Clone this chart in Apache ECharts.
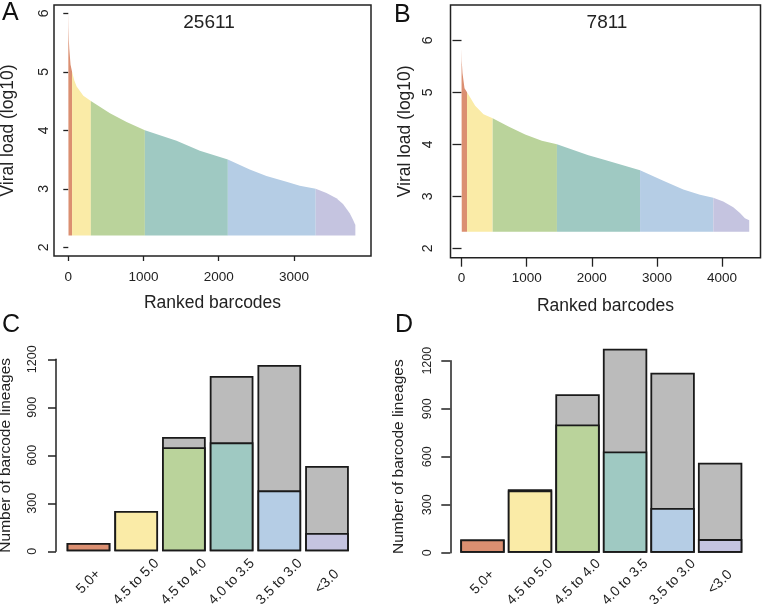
<!DOCTYPE html>
<html>
<head>
<meta charset="utf-8">
<script src="https://cdn.jsdelivr.net/npm/echarts@6/dist/echarts.min.js"></script>
<style>html,body{margin:0;padding:0;background:#fff}#c{width:762px;height:605px}</style>
</head>
<body>
<div id="c"></div>
<script>
// ---------- data ----------
const panelLetters = ['A', 'B', 'C', 'D'];
const panelTitles = ['25611', '7811'];
const binNames = ['5.0+', '4.5 to 5.0', '4.5 to 4.0', '4.0 to 3.5', '3.5 to 3.0', '<3.0'];
const binColors = ['#DB8F71', '#FAEBA7', '#BAD39B', '#9FC9C2', '#B5CDE5', '#C5C4E0'];
const greyColor = '#BBBBBB';

// Panel A: ranked barcodes curve
const rankA = [0, 3, 7, 13, 30, 50, 80, 111, 200, 300, 554, 775, 1018, 1439, 1749, 2121, 2412, 2634, 2900, 3077, 3289, 3432, 3564, 3652, 3741, 3785, 3816];
const loadA = [6.05, 5.75, 5.55, 5.40, 5.12, 5.00, 4.85, 4.75, 4.59, 4.50, 4.29, 4.14, 4.00, 3.82, 3.65, 3.50, 3.33, 3.22, 3.12, 3.05, 3.00, 2.93, 2.84, 2.74, 2.58, 2.47, 2.38];
const breaksA = [50, 300, 1018, 2121, 3289];
const baseA = 2.2;

// Panel B
const rankB = [0, 4, 15, 46, 85, 210, 337, 478, 721, 977, 1233, 1465, 1948, 2204, 2741, 3098, 3405, 3661, 3865, 4018, 4172, 4275, 4351, 4417];
const loadB = [5.85, 5.60, 5.37, 5.08, 5.00, 4.74, 4.58, 4.50, 4.34, 4.19, 4.07, 4.00, 3.79, 3.70, 3.50, 3.30, 3.13, 3.03, 2.97, 2.90, 2.79, 2.68, 2.58, 2.54];
const breaksB = [85, 478, 1465, 2741, 3865];
const baseB = 2.32;

// Panel C / D: number of barcode lineages (total bar height and coloured part)
const totalC = [52, 252, 715, 1096, 1165, 533];
const coloredC = [52, 252, 650, 681, 381, 114];
const totalD = [83, 396, 990, 1275, 1125, 562];
const coloredD = [83, 389, 802, 633, 279, 85];

const xTicksA = [0, 1000, 2000, 3000];
const xTicksB = [0, 1000, 2000, 3000, 4000];
const curveYTicks = [2, 3, 4, 5, 6];

// ---------- build ----------
const FONT = 'Liberation Sans, Arial, sans-serif';
const TXT = '#222';
const plain = v => String(v);

function segments(ranks, loads, breaks) {
  const edges = [ranks[0]].concat(breaks, [ranks[ranks.length - 1]]);
  const segs = [];
  for (let b = 0; b < edges.length - 1; b++) {
    const pts = [];
    for (let i = 0; i < ranks.length; i++) {
      if (ranks[i] >= edges[b] && ranks[i] <= edges[b + 1]) pts.push([ranks[i], loads[i]]);
    }
    segs.push(pts);
  }
  return segs;
}

const series = [];
function addCurve(idx, ranks, loads, breaks, base) {
  segments(ranks, loads, breaks).forEach((pts, b) => {
    series.push({
      type: 'line', xAxisIndex: idx, yAxisIndex: idx, data: pts,
      showSymbol: false, symbol: 'none', lineStyle: { width: 0 },
      areaStyle: { color: binColors[b], opacity: 1, origin: base },
      silent: true, z: 2
    });
  });
}
addCurve(0, rankA, loadA, breaksA, baseA);
addCurve(1, rankB, loadB, breaksB, baseB);

function addBars(idx, total, colored, gap) {
  series.push({
    type: 'bar', xAxisIndex: idx, yAxisIndex: idx, clip: false,
    barCategoryGap: gap, barGap: '-100%', z: 2,
    data: total,
    itemStyle: { color: greyColor, borderColor: '#1a1a1a', borderWidth: 1.8 }
  });
  series.push({
    type: 'bar', xAxisIndex: idx, yAxisIndex: idx, clip: false,
    barCategoryGap: gap, barGap: '-100%', z: 3,
    data: colored.map((v, i) => ({ value: v, itemStyle: { color: binColors[i] } })),
    itemStyle: { borderColor: '#1a1a1a', borderWidth: 1.8 }
  });
}
addBars(2, totalC, coloredC, '8.4%');
addBars(3, totalD, coloredD, '6.6%');

function curveX(idx, min, max, ticks, tickLen, margin, nameGap) {
  return {
    gridIndex: idx, type: 'value', min: min, max: max,
    name: 'Ranked barcodes', nameLocation: 'middle', nameGap: nameGap,
    nameTextStyle: { fontSize: 17.5, color: TXT, fontFamily: FONT },
    axisLine: { show: false },
    axisTick: { show: true, inside: false, length: tickLen, customValues: ticks, lineStyle: { color: '#222', width: 1.3 } },
    axisLabel: { customValues: ticks, formatter: plain, fontSize: 13.5, color: TXT, margin: margin, fontFamily: FONT },
    splitLine: { show: false }
  };
}
function curveY(idx, min, max, tickLen, margin, nameGap) {
  return {
    gridIndex: idx, type: 'value', min: min, max: max,
    name: 'Viral load (log10)', nameLocation: 'middle', nameGap: nameGap, nameRotate: 90,
    nameTextStyle: { fontSize: 17.5, color: TXT, fontFamily: FONT },
    axisLine: { show: false },
    axisTick: { show: true, inside: false, length: tickLen, customValues: curveYTicks, lineStyle: { color: '#222', width: 1.3 } },
    axisLabel: { customValues: curveYTicks, formatter: plain, rotate: 90, fontSize: 14, color: TXT, margin: margin, fontFamily: FONT },
    splitLine: { show: false }
  };
}
function countX(idx, margin) {
  return {
    gridIndex: idx, type: 'category', data: binNames,
    axisLine: { show: false }, axisTick: { show: false },
    axisLabel: {
      interval: 0, rotate: 45, fontSize: 14, color: TXT, margin: margin, fontFamily: FONT,
      align: 'center', verticalAlign: 'middle'
    }
  };
}
function countY(idx, offset, tickLen, margin, nameGap) {
  return {
    gridIndex: idx, type: 'value', min: 0, max: 1200, interval: 300, offset: offset,
    name: 'Number of barcode lineages', nameLocation: 'middle', nameGap: nameGap, nameRotate: 90,
    nameTextStyle: { fontSize: 15.5, color: TXT, fontFamily: FONT },
    axisLine: { show: true, lineStyle: { color: '#222', width: 1.5 } },
    axisTick: { show: true, inside: false, length: tickLen, lineStyle: { color: '#222', width: 1.5 } },
    axisLabel: { formatter: plain, rotate: 90, fontSize: 12.5, color: TXT, margin: margin, fontFamily: FONT },
    splitLine: { show: false }
  };
}

const letterStyle = { fontSize: 25, fontWeight: 'normal', color: '#111', fontFamily: FONT };
const titleStyle = { fontSize: 19, fontWeight: 'normal', color: '#222', fontFamily: FONT };
const gridBase = { outerBoundsMode: 'none', containLabel: false };
const option = {
  animation: false,
  backgroundColor: '#fff',
  textStyle: { fontFamily: FONT },
  title: [
    { text: panelLetters[0], left: 2, top: 1, padding: 0, textStyle: letterStyle },
    { text: panelLetters[1], left: 394, top: 3, padding: 0, textStyle: letterStyle },
    { text: panelLetters[2], left: 2, top: 313, padding: 0, textStyle: letterStyle },
    { text: panelLetters[3], left: 395, top: 313, padding: 0, textStyle: letterStyle },
    { text: panelTitles[0], left: 209, textAlign: 'center', top: 13, padding: 0, textStyle: titleStyle },
    { text: panelTitles[1], left: 607, textAlign: 'center', top: 13, padding: 0, textStyle: titleStyle }
  ],
  grid: [
    Object.assign({ left: 54, top: 5, width: 317, height: 251, show: true, borderColor: '#222', borderWidth: 1.5, backgroundColor: 'transparent' }, gridBase),
    Object.assign({ left: 450.5, top: 5, width: 310, height: 252.7, show: true, borderColor: '#222', borderWidth: 1.5, backgroundColor: 'transparent' }, gridBase),
    Object.assign({ left: 64.65, top: 359.3, width: 286.2, height: 192 }, gridBase),
    Object.assign({ left: 458.7, top: 360.7, width: 285.2, height: 192 }, gridBase)
  ],
  xAxis: [
    curveX(0, -190, 4024, xTicksA, 5, 14, 38),
    curveX(1, -169, 4590, xTicksB, 9, 14, 39),
    countX(2, 30.5),
    countX(3, 29.5)
  ],
  yAxis: [
    curveY(0, 1.851, 6.142, 5, 3, 37),
    curveY(1, 1.819, 6.679, 9, 15, 36),
    countY(2, 8.65, 8, 17, 42),
    countY(3, 8.4, 9, 16.5, 44)
  ],
  series: series
};

const chart = echarts.init(document.getElementById('c'), null, { renderer: 'canvas' });
chart.setOption(option);
</script>
</body>
</html>
